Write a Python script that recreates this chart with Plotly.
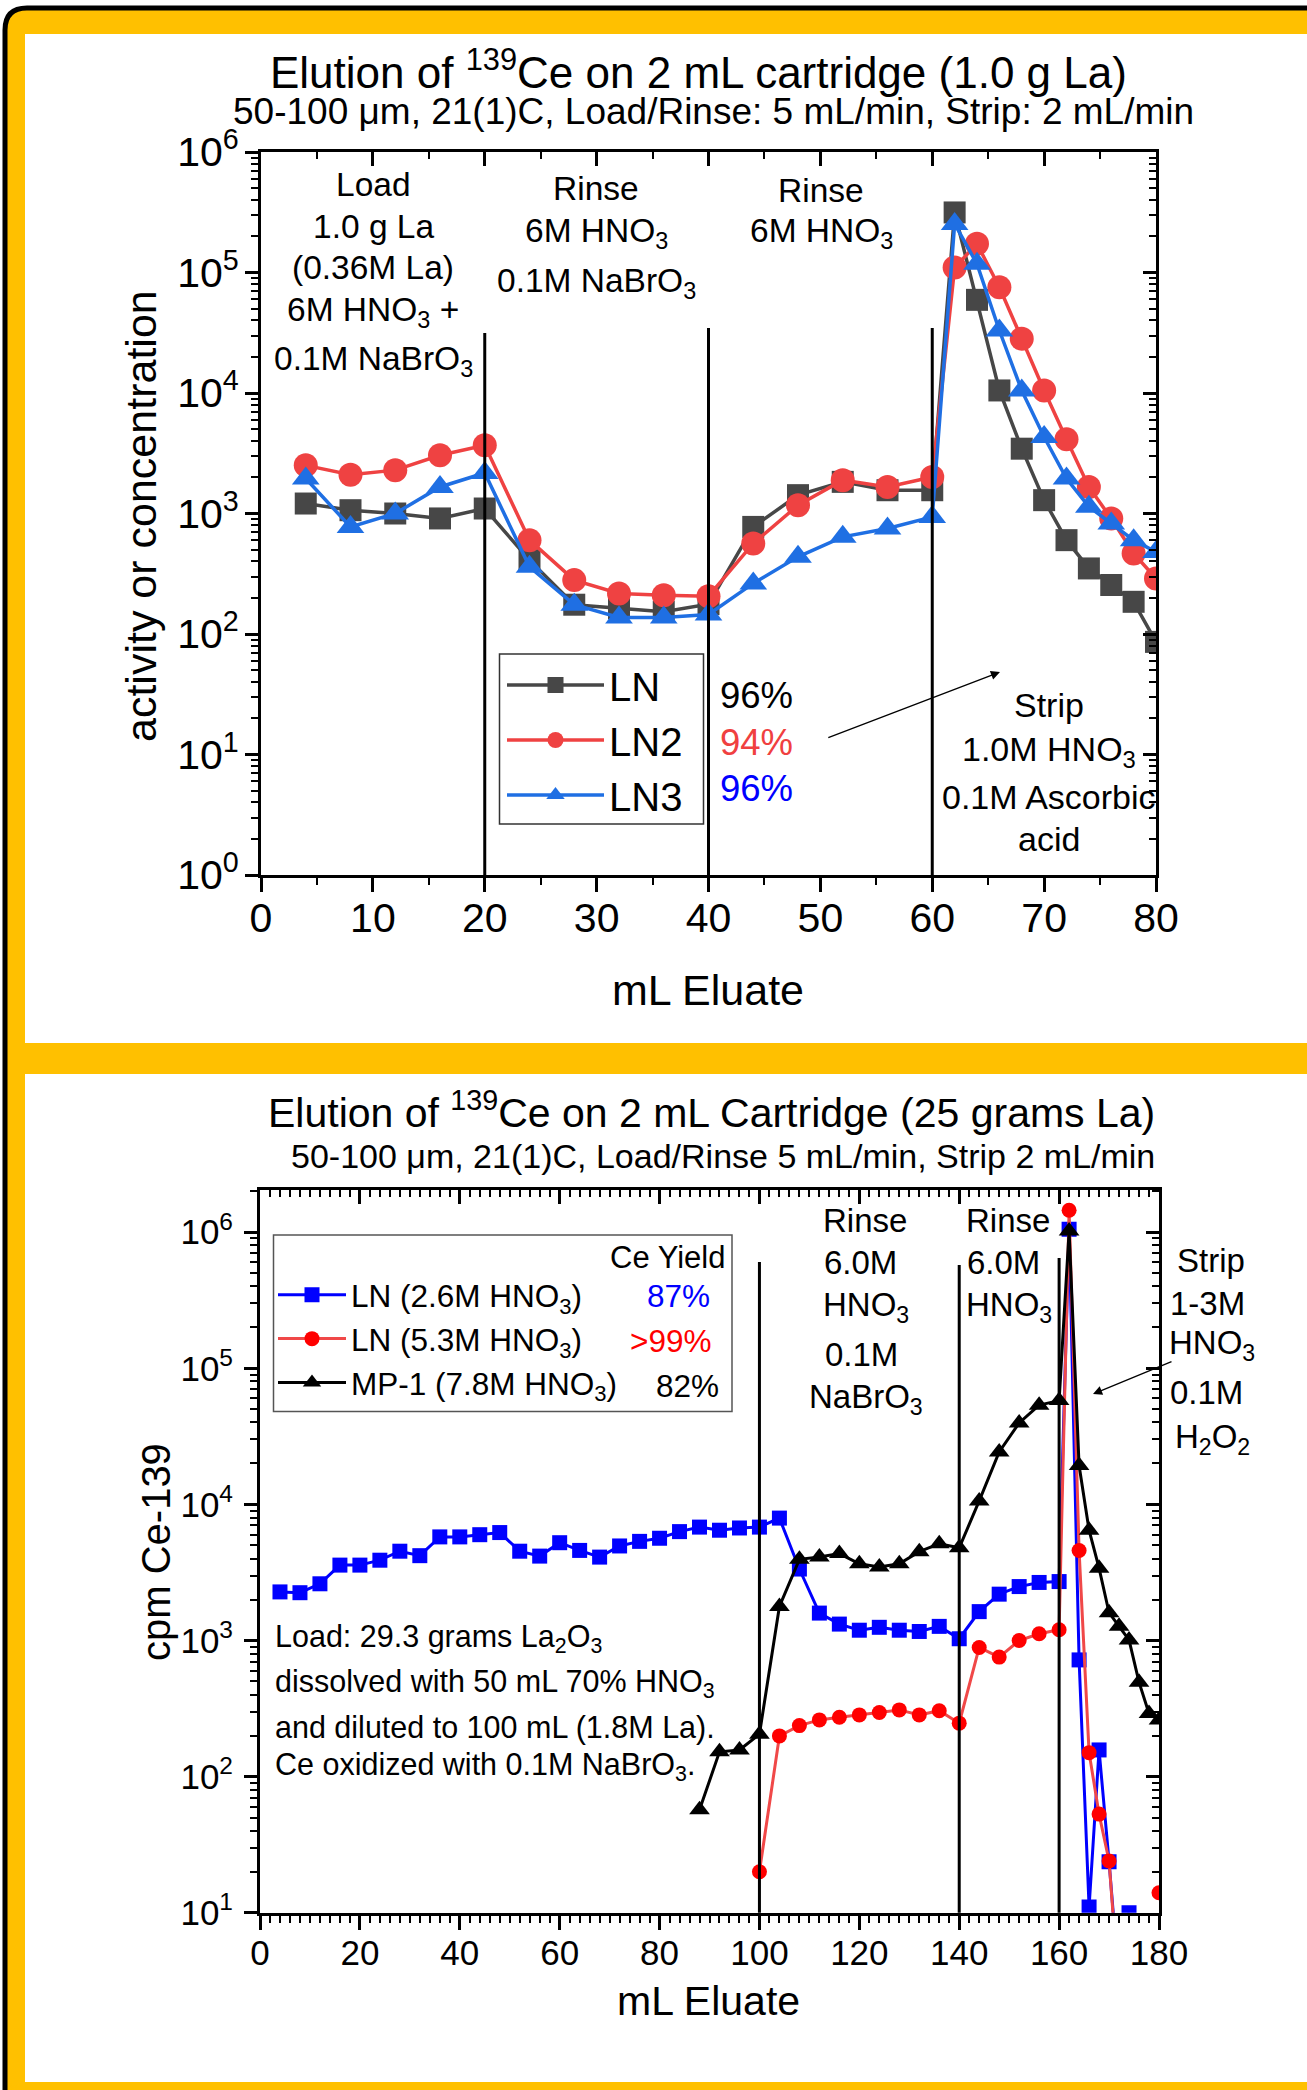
import plotly.graph_objects as go

W, H = 1307, 2090
FONT = "Liberation Sans, Arial, Helvetica, sans-serif"


def PX(x):
    return x / W


def PY(y):
    return 1 - y / H


# ------------------------------------------------------------------ data
# Panel 1 : Elution of 139Ce on 2 mL cartridge (1.0 g La)
p1_x = [4, 8, 12, 16, 20, 24, 28, 32, 36, 40, 44, 48, 52, 56, 60,
        62, 64, 66, 68, 70, 72, 74, 76, 78, 80]
p1_ln = [1210, 1065, 1000, 910, 1100, 410, 175, 163, 153, 177, 774, 1420, 1830, 1560, 1560,
         315000, 59300, 10500, 3450, 1290, 601, 350, 255, 185, 86]
p1_ln2 = [2510, 2100, 2290, 3040, 3680, 601, 280, 217, 210, 206, 564, 1170, 1890, 1660, 2010,
          110000, 173000, 75400, 28200, 10500, 4130, 1660, 909, 466, 289]
p1_ln3 = [1950, 774, 1000, 1660, 2170, 361, 175, 137, 137, 145, 263, 437, 640, 751, 937,
          253000, 118000, 33000, 10500, 4310, 1950, 1140, 826, 601, 480]
p1_names = ["LN", "LN2", "LN3"]
p1_yields = ["96%", "94%", "96%"]
p1_phase_bounds = [20, 40, 60]

# Panel 2 : Elution of 139Ce on 2 mL Cartridge (25 grams La)
p2_x_ln26 = [4, 8, 12, 16, 20, 24, 28, 32, 36, 40, 44, 48, 52, 56, 60, 64, 68, 72, 76, 80,
             84, 88, 92, 96, 100, 104, 108, 112, 116, 120, 124, 128, 132, 136, 140, 144, 148,
             152, 156, 160, 162, 164, 166, 168, 170, 172, 174]
p2_ln26 = [2275, 2245, 2610, 3580, 3580, 3890, 4530, 4200, 5770, 5770, 5990, 6210, 4530, 4170,
           5230, 4590, 4100, 4950, 5350, 5640, 6310, 6810, 6460, 6710, 6810, 7930, 3350, 1590,
           1320, 1190, 1250, 1190, 1165, 1270, 1030, 1630, 2190, 2490, 2670, 2710, 1050000,
           720, 11, 157, 23.7, 3, 10]
p2_x_ln53 = [100, 104, 108, 112, 116, 120, 124, 128, 132, 136, 140, 144, 148, 152, 156, 160,
             162, 164, 166, 168, 170, 172, 176, 180]
p2_ln53 = [20, 199, 237, 261, 273, 284, 296, 309, 284, 305, 247, 889, 755, 1000, 1120, 1200,
           1450000, 4580, 150, 53, 24, 2.5, None, 14]
p2_x_mp1 = [88, 92, 96, 100, 104, 108, 112, 116, 120, 124, 128, 132, 136, 140, 144, 148, 152,
            156, 160, 162, 164, 166, 168, 170, 172, 174, 176, 178, 180]
p2_mp1 = [57, 152, 157, 205, 1780, 3950, 4100, 4350, 3660, 3470, 3660, 4490, 5140, 4800,
          10600, 24300, 39700, 53600, 57900, 1020000, 19300, 6460, 3400, 1600, 1270, 1010,
          494, 291, 260]
p2_names = ["LN (2.6M HNO<sub>3</sub>)", "LN (5.3M HNO<sub>3</sub>)", "MP-1 (7.8M HNO<sub>3</sub>)"]
p2_yields = ["87%", ">99%", "82%"]
p2_phase_bounds = [100, 140, 160]

# tick labels
p1_exps = [0, 1, 2, 3, 4, 5, 6]
p2_exps = [1, 2, 3, 4, 5, 6]

# ------------------------------------------------------------------ styles
ORANGE = "#FFC000"
P1_COL = ["#474747", "#EF4242", "#1F6FE3"]
P1_SYM = ["square", "circle", "triangle-up"]
P1_SIZE = [22, 24, 24]
P2_LINE = ["#0000FF", "#F04848", "#000000"]
P2_MARK = ["#0000FF", "#FF0000", "#000000"]
P2_SYM = ["square", "circle", "triangle-up"]
P2_SIZE = [15, 15, 18]

fig = go.Figure()

# panel 1 traces
for name, ys, col, sym, sz in zip(p1_names, [p1_ln, p1_ln2, p1_ln3], P1_COL, P1_SYM, P1_SIZE):
    fig.add_trace(go.Scatter(
        x=p1_x, y=ys, name=name, mode="lines+markers",
        line=dict(color=col, width=3.5),
        marker=dict(symbol=sym, size=sz, color=col),
        xaxis="x", yaxis="y", legend="legend", hoverinfo="skip"))

# panel 2 traces
for name, xs, ys, lc, mc, sym, sz in zip(p2_names, [p2_x_ln26, p2_x_ln53, p2_x_mp1],
                                         [p2_ln26, p2_ln53, p2_mp1], P2_LINE, P2_MARK,
                                         P2_SYM, P2_SIZE):
    fig.add_trace(go.Scatter(
        x=xs, y=ys, name=name, mode="lines+markers",
        line=dict(color=lc, width=3),
        marker=dict(symbol=sym, size=sz, color=mc),
        xaxis="x2", yaxis="y2", legend="legend2", hoverinfo="skip", connectgaps=False))

# dummy traces to realize the mirrored (inside-tick) axes
for xa, ya in [("x3", "y"), ("x", "y3"), ("x4", "y2"), ("x2", "y4")]:
    fig.add_trace(go.Scatter(x=[None], y=[None], xaxis=xa, yaxis=ya, showlegend=False,
                             hoverinfo="skip"))

tickfont1 = dict(family=FONT, size=41, color="black")
tickfont2 = dict(family=FONT, size=35, color="black")


def x_main(domain, rng, dtick, mdtick, anchor, tf, standoff):
    return dict(domain=domain, range=rng, anchor=anchor, showline=True, linewidth=3,
                linecolor="black", mirror=True, ticks="outside", ticklen=14, tickwidth=2.5,
                tickcolor="black", tick0=0, dtick=dtick,
                minor=dict(ticks="outside", ticklen=7, tickwidth=2, tickcolor="black",
                           tick0=0, dtick=mdtick, showgrid=False),
                showgrid=False, zeroline=False, tickfont=tf, ticklabelstandoff=standoff,
                automargin=False, fixedrange=True)


def x_top(over, anchor, rng, dtick, mdtick):
    return dict(overlaying=over, anchor=anchor, side="top", range=rng, showline=False,
                ticks="inside", ticklen=14, tickwidth=2.5, tickcolor="black", tick0=0,
                dtick=dtick,
                minor=dict(ticks="inside", ticklen=7, tickwidth=2, tickcolor="black",
                           tick0=0, dtick=mdtick, showgrid=False),
                showticklabels=False, showgrid=False, zeroline=False, automargin=False,
                fixedrange=True)


def y_common(exps):
    vals = [10 ** e for e in exps]
    txt = ["10<sup>%d</sup>" % e for e in exps]
    minor_vals = [m * 10 ** e for e in range(exps[0], exps[-1] + 1) for m in range(2, 10)]
    return vals, txt, minor_vals


def y_main(domain, exps, rng, anchor, tf, standoff):
    vals, txt, mv = y_common(exps)
    return dict(domain=domain, type="log", range=rng, anchor=anchor, showline=True,
                linewidth=3, linecolor="black", mirror=True, ticks="outside", ticklen=13,
                tickwidth=2.5, tickcolor="black", tickmode="array", tickvals=vals,
                ticktext=txt,
                minor=dict(ticks="outside", ticklen=7, tickwidth=2, tickcolor="black",
                           tickvals=mv, showgrid=False),
                showgrid=False, zeroline=False, tickfont=tf, ticklabelstandoff=standoff,
                automargin=False, fixedrange=True)


def y_right(over, anchor, exps, rng):
    vals, txt, mv = y_common(exps)
    return dict(overlaying=over, anchor=anchor, side="right", type="log", range=rng,
                showline=False, ticks="inside", ticklen=13, tickwidth=2.5,
                tickcolor="black", tickmode="array", tickvals=vals,
                minor=dict(ticks="inside", ticklen=7, tickwidth=2, tickcolor="black",
                           tickvals=mv, showgrid=False),
                showticklabels=False, showgrid=False, zeroline=False, automargin=False,
                fixedrange=True)


P1_XDOM = [PX(261), PX(1156)]
P1_YDOM = [PY(875), PY(152)]
P2_XDOM = [PX(260), PX(1159)]
P2_YDOM = [PY(1912.7), PY(1190)]

fig.update_layout(
    xaxis=x_main(P1_XDOM, [0, 80], 10, 5, "y", tickfont1, -9),
    yaxis=y_main(P1_YDOM, p1_exps, [0, 6], "x", tickfont1, -2),
    xaxis3=x_top("x", "y", [0, 80], 10, 5),
    yaxis3=y_right("y", "x", p1_exps, [0, 6]),
    xaxis2=x_main(P2_XDOM, [0, 180], 20, 2, "y2", tickfont2, -7),
    yaxis2=y_main(P2_YDOM, p2_exps, [1, 6.31], "x2", tickfont2, 4),
    xaxis4=x_top("x2", "y2", [0, 180], 20, 2),
    yaxis4=y_right("y2", "x2", p2_exps, [1, 6.31]),
)

# ------------------------------------------------------------------ shapes
R = 22
frame_path = ("M {a},{b} L {a},{c} Q {a},{d} {e},{d} L {f},{d} L {f},{b} Z").format(
    a=PX(5), b=PY(2300), c=PY(8 + R), d=PY(8), e=PX(5 + R), f=PX(1450))
shapes = [
    dict(type="path", path=frame_path, xref="paper", yref="paper", fillcolor=ORANGE,
         line=dict(color="black", width=5), layer="below"),
    dict(type="rect", xref="paper", yref="paper", x0=PX(25), x1=PX(1400), y0=PY(1043),
         y1=PY(34), fillcolor="white", line=dict(width=0), layer="below"),
    dict(type="rect", xref="paper", yref="paper", x0=PX(25), x1=PX(1400), y0=PY(2082),
         y1=PY(1074), fillcolor="white", line=dict(width=0), layer="below"),
    # legend boxes
    dict(type="rect", xref="paper", yref="paper", x0=PX(499.5), x1=PX(703.5), y0=PY(824),
         y1=PY(654), line=dict(color="#333333", width=1.5), fillcolor="rgba(0,0,0,0)"),
    dict(type="rect", xref="paper", yref="paper", x0=PX(273.5), x1=PX(732), y0=PY(1411.5),
         y1=PY(1235), line=dict(color="#555555", width=1.5), fillcolor="rgba(0,0,0,0)"),
]
p1_line_tops = [333, 328, 328]
for xb, top in zip(p1_phase_bounds, p1_line_tops):
    shapes.append(dict(type="line", xref="x", yref="paper", x0=xb, x1=xb, y0=PY(875),
                       y1=PY(top), line=dict(color="black", width=3)))
p2_line_tops = [1262, 1265, 1258]
for xb, top in zip(p2_phase_bounds, p2_line_tops):
    shapes.append(dict(type="line", xref="x2", yref="paper", x0=xb, x1=xb, y0=PY(1912.7),
                       y1=PY(top), line=dict(color="black", width=3)))
fig.update_layout(shapes=shapes)

# ------------------------------------------------------------------ annotations
anns = []


def ann(text, x, y, size, color="black", xanchor="center", yanchor="middle", angle=0):
    anns.append(dict(text=text, x=PX(x), y=PY(y), xref="paper", yref="paper",
                     showarrow=False, xanchor=xanchor, yanchor=yanchor, textangle=angle,
                     font=dict(family=FONT, size=size, color=color)))


# panel 1
ann("Elution of <sup>139</sup>Ce on 2 mL cartridge (1.0 g La)", 699, 70, 44)
ann("50-100 μm, 21(1)C, Load/Rinse: 5 mL/min, Strip: 2 mL/min", 713, 111, 37)
ann("activity or concentration", 141, 516, 43, angle=-90)
ann("mL Eluate", 708, 990, 43)
for t, y in zip(["Load", "1.0 g La", "(0.36M La)", "6M HNO<sub>3</sub> +",
                 "0.1M NaBrO<sub>3</sub>"], [185, 226, 267, 312, 361]):
    ann(t, 373, y, 33.5)
for t, y in zip(["Rinse", "6M HNO<sub>3</sub>", "0.1M NaBrO<sub>3</sub>"], [188, 233, 283]):
    ann(t, 596, y, 33.5)
for t, y in zip(["Rinse", "6M HNO<sub>3</sub>"], [190, 233]):
    ann(t, 821, y, 33.5)
for t, y in zip(["Strip", "1.0M HNO<sub>3</sub>", "0.1M Ascorbic", "acid"],
                [705, 751, 797, 839]):
    ann(t, 1049, y, 34)
for t, y, c in zip(p1_yields, [695, 742, 788], ["black", "#F04040", "#0000FF"]):
    ann(t, 718, y, 36.5, color=c, xanchor="left")
anns.append(dict(x=PX(1000), y=PY(672), xref="paper", yref="paper", text="",
                 showarrow=True, ax=826.8 - 1000, ay=738.3 - 672, axref="pixel",
                 ayref="pixel", arrowhead=2, arrowsize=1.4, arrowwidth=1.3,
                 arrowcolor="black"))

# panel 2
ann("Elution of <sup>139</sup>Ce on 2 mL Cartridge (25 grams La)", 711, 1110, 41)
ann("50-100 μm, 21(1)C, Load/Rinse 5 mL/min, Strip 2 mL/min", 723, 1156, 34)
ann("cpm Ce-139", 156, 1552, 40, angle=-90)
ann("mL Eluate", 708, 2001, 41)
for t, x, y in zip(["Rinse", "6.0M", "HNO<sub>3</sub>", "0.1M", "NaBrO<sub>3</sub>"],
                   [865, 860, 866, 861, 866], [1220, 1262, 1307, 1354, 1399]):
    ann(t, x, y, 33)
for t, x, y in zip(["Rinse", "6.0M", "HNO<sub>3</sub>"], [1008, 1003, 1009],
                   [1220, 1262, 1307]):
    ann(t, x, y, 33)
for t, x, y in zip(["Strip", "1-3M", "HNO<sub>3</sub>", "0.1M", "H<sub>2</sub>O<sub>2</sub>"],
                   [1211, 1207, 1212, 1206, 1212], [1260, 1303, 1345, 1392, 1439]):
    ann(t, x, y, 33)
anns.append(dict(x=PX(1093), y=PY(1394), xref="paper", yref="paper", text="",
                 showarrow=True, ax=1173 - 1093, ay=1361 - 1394, axref="pixel",
                 ayref="pixel", arrowhead=2, arrowsize=1.4, arrowwidth=1.3,
                 arrowcolor="black"))
for t, y in zip(["Load: 29.3 grams La<sub>2</sub>O<sub>3</sub>",
                 "dissolved with 50 mL 70% HNO<sub>3</sub>",
                 "and diluted to 100 mL (1.8M La).",
                 "Ce oxidized with 0.1M NaBrO<sub>3</sub>."], [1638, 1683, 1727, 1766]):
    ann(t, 273, y, 30.5, xanchor="left")
ann("Ce Yield", 727, 1257, 31, xanchor="right")
for t, x, y, c in zip(p2_yields, [678, 670, 687], [1296, 1341, 1386],
                      ["#0000FF", "#FF0000", "black"]):
    ann(t, x, y, 31.5, color=c)

fig.update_layout(annotations=anns)

fig.update_layout(
    width=W, height=H, autosize=False,
    margin=dict(l=0, r=0, t=0, b=0, pad=0, autoexpand=False),
    paper_bgcolor="white", plot_bgcolor="rgba(0,0,0,0)",
    font=dict(family=FONT, color="black"),
    showlegend=True,
    legend=dict(x=PX(502), y=PY(652.5), xanchor="left", yanchor="top",
                bgcolor="rgba(0,0,0,0)", borderwidth=0, itemwidth=97, tracegroupgap=0,
                font=dict(family=FONT, size=40, color="black")),
    legend2=dict(x=PX(273), y=PY(1267.7), xanchor="left", yanchor="top",
                 bgcolor="rgba(0,0,0,0)", borderwidth=0, itemwidth=68, tracegroupgap=0,
                 font=dict(family=FONT, size=31.5, color="black")),
)

fig.write_html(
    "out.html",
    config={"displayModeBar": False, "responsive": False},
    post_script="document.body.style.margin='0';document.body.style.overflow='hidden';",
)
